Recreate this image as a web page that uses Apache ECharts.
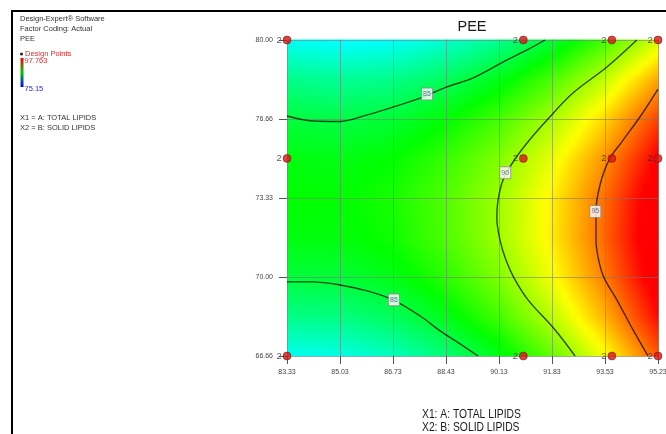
<!DOCTYPE html>
<html>
<head>
<meta charset="utf-8">
<script src="https://cdn.jsdelivr.net/npm/echarts@6/dist/echarts.min.js"></script>
<style>
  html, body { margin: 0; padding: 0; background: #fff; }
  #chart { width: 666px; height: 434px; }
</style>
</head>
<body>
<div id="chart"></div>
<script>
// A: total lipids — surface grid columns (also the x tick values)
const totalLipids = [83.33, 85.03, 86.73, 88.43, 90.13, 91.83, 93.53, 95.23];
// B: solid lipids — surface grid rows
const solidLipids = [66.66, 68.33, 70.00, 71.66, 73.33, 75.00, 76.66, 78.33, 80.00];
const yTickLabels = ['66.66', '70.00', '73.33', '76.66', '80.00'];

// Predicted PEE across total lipids, one array per solid-lipids row
const peeAtB6666 = [81.08, 81.37, 82.25, 83.85, 85.93, 88.68, 91.97, 95.84];
const peeAtB6833 = [83.44, 83.65, 84.45, 85.96, 87.96, 90.62, 93.84, 97.62];
const peeAtB7000 = [85.13, 85.26, 85.97, 87.40, 89.32, 91.90, 95.03, 98.73];
const peeAtB7166 = [86.14, 86.19, 86.82, 88.17, 90.00, 92.50, 95.55, 99.17];
const peeAtB7333 = [86.48, 86.44, 86.99, 88.26, 90.01, 92.42, 95.39, 98.93];
const peeAtB7500 = [86.14, 86.02, 86.49, 87.67, 89.34, 91.67, 94.56, 98.01];
const peeAtB7666 = [85.13, 84.93, 85.31, 86.41, 88.00, 90.25, 93.05, 96.42];
const peeAtB7833 = [83.44, 83.16, 83.46, 84.48, 85.98, 88.15, 90.87, 94.16];
const peeAtB8000 = [81.08, 80.71, 80.93, 81.87, 83.29, 85.37, 88.01, 91.22];
const peeRows = [peeAtB6666, peeAtB6833, peeAtB7000, peeAtB7166, peeAtB7333,
                 peeAtB7500, peeAtB7666, peeAtB7833, peeAtB8000];

// Observed PEE range shown in the colour key
const peeLow = 75.15;
const peeHigh = 97.763;

// Design points (each run replicated twice)
const designA = [83.33, 90.91, 93.75, 95.23];
const designB = [66.66, 75.00, 80.00];
const designReplicates = 2;

// Contour lines as [A, B] pairs
const contour85Upper = [[83.33, 76.79], [84.16, 76.58], [85.03, 76.56], [85.90, 76.84], [86.73, 77.17],
  [87.60, 77.55], [88.46, 78.02], [89.30, 78.40], [90.39, 79.16], [91.03, 79.58], [91.61, 80.00]];
const contour85Lower = [[83.33, 69.79], [84.16, 69.79], [85.03, 69.66], [85.90, 69.41], [86.73, 69.03],
  [87.60, 68.35], [88.24, 67.72], [88.88, 67.17], [89.46, 66.66]];
const contour90 = [[94.55, 80.00], [93.59, 78.86], [92.50, 77.76], [91.67, 76.62], [91.03, 75.65],
  [90.58, 74.85], [90.26, 74.09], [90.10, 73.25], [90.06, 72.49], [90.16, 71.56], [90.35, 70.72],
  [90.61, 69.96], [91.06, 69.03], [91.93, 67.76], [92.57, 66.66]];
const contour95 = [[95.23, 77.93], [94.65, 76.75], [94.04, 75.65], [93.66, 74.94], [93.37, 73.88],
  [93.24, 72.74], [93.24, 71.56], [93.34, 70.63], [93.50, 69.96], [93.91, 69.03], [94.43, 67.76],
  [94.91, 66.66]];
// Contour value tags: [A, B, level]
const contourTags = [[87.82, 77.72, 85], [86.76, 69.03, 85], [90.33, 74.40, 90], [93.22, 72.76, 95]];

// Colour ramp: blue -> cyan -> green -> yellow -> red over the PEE range
const rampColors = [[0, 0, 255], [0, 255, 255], [0, 255, 0], [255, 255, 0], [255, 0, 0]];
function peeColor(v) {
  let t = (v - peeLow) / (peeHigh - peeLow);
  t = Math.max(0, Math.min(1, t)) * (rampColors.length - 1);
  const k = Math.min(rampColors.length - 2, Math.floor(t));
  const f = t - k;
  const c0 = rampColors[k], c1 = rampColors[k + 1];
  const c = c0.map((x, n) => Math.round(x + (c1[n] - x) * f));
  return 'rgb(' + c.join(',') + ')';
}

// One item per surface cell: corners and their four PEE values
const fieldCells = [];
for (let j = 0; j < solidLipids.length - 1; j++) {
  for (let i = 0; i < totalLipids.length - 1; i++) {
    fieldCells.push([totalLipids[i], solidLipids[j], totalLipids[i + 1], solidLipids[j + 1],
      peeRows[j][i], peeRows[j][i + 1], peeRows[j + 1][i], peeRows[j + 1][i + 1]]);
  }
}

// Shade a cell smoothly between its corner values
function renderCell(params, api) {
  const p0 = api.coord([api.value(0), api.value(1)]);
  const p1 = api.coord([api.value(2), api.value(3)]);
  const v00 = api.value(4), v10 = api.value(5), v01 = api.value(6), v11 = api.value(7);
  const x0 = p0[0], x1 = p1[0], yb = p0[1], yt = p1[1];
  const n = Math.max(1, Math.ceil((yb - yt) / 2));
  const stopsN = 8;
  const children = [];
  for (let k = 0; k < n; k++) {
    const t = (k + 0.5) / n;
    const bottom = yb - k * (yb - yt) / n;
    const top = yb - (k + 1) * (yb - yt) / n;
    const vl = v00 + (v01 - v00) * t;
    const vr = v10 + (v11 - v10) * t;
    const stops = [];
    for (let s = 0; s <= stopsN; s++) {
      const u = s / stopsN;
      stops.push({ offset: u, color: peeColor(vl + (vr - vl) * u) });
    }
    children.push({
      type: 'rect',
      shape: { x: x0, y: top - 0.5, width: x1 - x0 + 0.8, height: bottom - top + 1 },
      style: { fill: new echarts.graphic.LinearGradient(0, 0, 1, 0, stops) },
      silent: true
    });
  }
  return { type: 'group', children: children };
}

const designData = [];
designA.forEach(a => designB.forEach(b => designData.push([a, b, designReplicates])));

const contourLineStyle = { color: 'rgba(0,0,0,0.7)', width: 1.4 };
function contourSeries(points) {
  return {
    type: 'line', data: points, smooth: 0.35, showSymbol: false, symbol: 'none',
    lineStyle: contourLineStyle, z: 4, silent: true, animation: false
  };
}

const chart = echarts.init(document.getElementById('chart'), null, { renderer: 'canvas' });
const textFont = 'Liberation Sans, Arial, sans-serif';

chart.setOption({
  animation: false,
  backgroundColor: '#ffffff',
  grid: { left: 287, top: 40, width: 371, height: 316, containLabel: false, outerBoundsMode: 'none' },
  xAxis: {
    type: 'value', min: 83.33, max: 95.23, interval: 1.7, z: 3,
    axisLine: { show: false },
    axisTick: { show: true, length: 8, lineStyle: { color: '#555', width: 1 } },
    axisLabel: { fontSize: 7, color: '#444', margin: 13, fontFamily: textFont,
      formatter: v => v.toFixed(2), showMaxLabel: true, showMinLabel: true, hideOverlap: false },
    splitLine: { show: true, lineStyle: { color: 'rgba(120,120,120,0.55)', width: 1 } }
  },
  yAxis: {
    type: 'value', min: 66.66, max: 80.00, interval: 3.335, z: 3,
    axisLine: { show: false },
    axisTick: { show: true, length: 8, lineStyle: { color: '#555', width: 1 } },
    axisLabel: { fontSize: 7, color: '#444', margin: 14, fontFamily: textFont,
      formatter: v => yTickLabels[Math.round((v - 66.66) / 3.335)],
      showMaxLabel: true, showMinLabel: true },
    splitLine: { show: true, lineStyle: { color: 'rgba(120,120,120,0.55)', width: 1 } }
  },
  series: [
    {
      type: 'custom', data: fieldCells, renderItem: renderCell, z: 1, silent: true,
      encode: { x: [0, 2], y: [1, 3] }, animation: false
    },
    contourSeries(contour85Upper),
    contourSeries(contour85Lower),
    contourSeries(contour90),
    contourSeries(contour95),
    {
      type: 'scatter', data: contourTags, symbol: 'rect', symbolSize: [11, 12], z: 5, silent: true,
      itemStyle: { color: '#ffffff', borderColor: '#8a8a8a', borderWidth: 1 },
      label: { show: true, position: 'inside', formatter: p => String(p.value[2]),
        fontSize: 7, color: '#4a4a8a', fontFamily: textFont }
    },
    {
      type: 'scatter', data: designData, symbol: 'circle', symbolSize: 8, z: 6, silent: true,
      clip: false,
      itemStyle: { color: '#d41414', borderColor: '#7a0000', borderWidth: 0.6 },
      label: { show: true, position: 'left', distance: 1, formatter: p => String(p.value[2]),
        fontSize: 9.5, color: '#333', fontFamily: textFont }
    }
  ],
  graphic: [
    { type: 'rect', shape: { x: 12, y: 11, width: 720, height: 500 },
      style: { fill: 'none', stroke: '#000', lineWidth: 2 }, silent: true },
    { type: 'text', x: 472, y: 27, style: { text: 'PEE', fill: '#1a1a1a', align: 'center',
      verticalAlign: 'middle', font: '14.5px ' + textFont } },
    { type: 'text', left: 20, top: 15, style: { text: 'Design-Expert® Software',
      fill: '#333', font: '7.5px ' + textFont } },
    { type: 'text', left: 20, top: 25, style: { text: 'Factor Coding: Actual', fill: '#333',
      font: '7.5px ' + textFont } },
    { type: 'text', left: 20, top: 35, style: { text: 'PEE', fill: '#333', font: '7.5px ' + textFont } },
    { type: 'circle', shape: { cx: 21.5, cy: 54, r: 1.5 }, style: { fill: '#222' } },
    { type: 'text', left: 25, top: 50, style: { text: 'Design Points', fill: '#e02a2a',
      font: '7.5px ' + textFont } },
    { type: 'rect', shape: { x: 20.5, y: 58, width: 3, height: 29 },
      style: { fill: new echarts.graphic.LinearGradient(0, 0, 0, 1, [
        { offset: 0, color: '#ff0000' }, { offset: 0.5, color: '#00c800' }, { offset: 1, color: '#0000ff' }]) } },
    { type: 'text', left: 24.5, top: 57, style: { text: String(peeHigh), fill: '#e03030',
      font: '7.5px ' + textFont } },
    { type: 'text', left: 24.5, top: 85, style: { text: String(peeLow), fill: '#2a2ac0',
      font: '7.5px ' + textFont } },
    { type: 'text', left: 20, top: 114, style: { text: 'X1 = A: TOTAL LIPIDS', fill: '#333',
      font: '7.5px ' + textFont } },
    { type: 'text', left: 20, top: 124, style: { text: 'X2 = B: SOLID LIPIDS', fill: '#333',
      font: '7.5px ' + textFont } },
    { type: 'text', x: 422, y: 415, scaleX: 0.86, style: { text: 'X1: A: TOTAL LIPIDS', fill: '#1a1a1a',
      verticalAlign: 'middle', font: '12px ' + textFont } },
    { type: 'text', x: 422, y: 428, scaleX: 0.86, style: { text: 'X2: B: SOLID LIPIDS', fill: '#1a1a1a',
      verticalAlign: 'middle', font: '12px ' + textFont } }
  ]
});
</script>
</body>
</html>
